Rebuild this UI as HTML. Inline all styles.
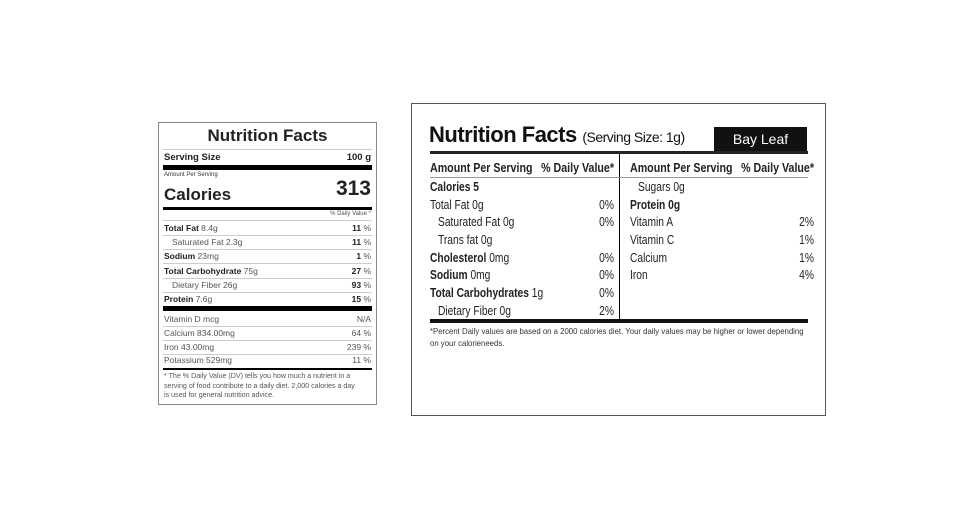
<!DOCTYPE html>
<html><head><meta charset="utf-8"><style>
body{margin:0;width:975px;height:525px;background:#fff;position:relative;overflow:hidden;font-family:"Liberation Sans",sans-serif;color:#222}
.a{position:absolute;white-space:nowrap}
.L{font-size:8.5px;color:#555}
.L b{color:#222}
.r{text-align:right}
.ln{position:absolute;background:#ccc;height:1px}
.bk{position:absolute;background:#000}
.N{font-size:12.5px;color:#222;transform:scaleX(0.82);transform-origin:left top}
.N.r{transform-origin:right top}
</style></head><body>
<!-- left label -->
<div class="a" style="left:158px;top:122px;width:217px;height:281px;border:1px solid #888"></div>
<div class="a" style="left:158px;top:126px;width:219px;text-align:center;font-size:17px;font-weight:bold;color:#222">Nutrition Facts</div>
<div class="ln" style="left:163px;top:149px;width:209px"></div>
<div class="a L" style="left:164px;top:152px;font-size:9.5px"><b>Serving Size</b></div>
<div class="a L r" style="left:300px;top:152px;width:71px;font-size:9.5px"><b>100 g</b></div>
<div class="bk" style="left:163px;top:165px;width:209px;height:5px"></div>
<div class="a L" style="left:164px;top:172px;font-size:6px;color:#333">Amount Per Serving</div>
<div class="a" style="left:164px;top:185px;font-size:17px;font-weight:bold;color:#222">Calories</div>
<div class="a r" style="left:300px;top:177px;width:71px;font-size:21px;font-weight:bold;color:#222">313</div>
<div class="bk" style="left:163px;top:207px;width:209px;height:3px"></div>
<div class="a L r" style="left:250px;top:211px;width:121px;font-size:6px">% Daily Value *</div>
<div class="ln" style="left:163px;top:220px;width:209px"></div>
<div class="a L" style="left:164px;top:223px"><b>Total Fat</b> 8.4g</div><div class="a L r" style="left:300px;top:223px;width:71px"><b>11</b> %</div>
<div class="ln" style="left:163px;top:235px;width:209px"></div>
<div class="a L" style="left:172px;top:237px">Saturated Fat 2.3g</div><div class="a L r" style="left:300px;top:237px;width:71px"><b>11</b> %</div>
<div class="ln" style="left:163px;top:249px;width:209px"></div>
<div class="a L" style="left:164px;top:251px"><b>Sodium</b> 23mg</div><div class="a L r" style="left:300px;top:251px;width:71px"><b>1</b> %</div>
<div class="ln" style="left:163px;top:263px;width:209px"></div>
<div class="a L" style="left:164px;top:266px"><b>Total Carbohydrate</b> 75g</div><div class="a L r" style="left:300px;top:266px;width:71px"><b>27</b> %</div>
<div class="ln" style="left:163px;top:278px;width:209px"></div>
<div class="a L" style="left:172px;top:280px">Dietary Fiber 26g</div><div class="a L r" style="left:300px;top:280px;width:71px"><b>93</b> %</div>
<div class="ln" style="left:163px;top:292px;width:209px"></div>
<div class="a L" style="left:164px;top:294px"><b>Protein</b> 7.6g</div><div class="a L r" style="left:300px;top:294px;width:71px"><b>15</b> %</div>
<div class="bk" style="left:163px;top:306px;width:209px;height:5px"></div>
<div class="a L" style="left:164px;top:314px">Vitamin D mcg</div><div class="a L r" style="left:300px;top:314px;width:71px">N/A</div>
<div class="ln" style="left:163px;top:326px;width:209px"></div>
<div class="a L" style="left:164px;top:328px">Calcium 834.00mg</div><div class="a L r" style="left:300px;top:328px;width:71px">64 %</div>
<div class="ln" style="left:163px;top:340px;width:209px"></div>
<div class="a L" style="left:164px;top:342px">Iron 43.00mg</div><div class="a L r" style="left:300px;top:342px;width:71px">239 %</div>
<div class="ln" style="left:163px;top:354px;width:209px"></div>
<div class="a L" style="left:164px;top:355px">Potassium 529mg</div><div class="a L r" style="left:300px;top:355px;width:71px">11 %</div>
<div class="bk" style="left:163px;top:368px;width:209px;height:2px"></div>
<div class="a" style="left:164px;top:372px;font-size:7.1px;line-height:9.7px;color:#555">* The % Daily Value (DV) tells you how much a nutrient in a<br>serving of food contribute to a daily diet. 2,000 calories a day<br>is used for general nutrition advice.</div>

<!-- right label -->
<div class="a" style="left:411px;top:103px;width:413px;height:311px;border:1px solid #555"></div>
<div class="a" style="left:429px;top:122px;font-size:22px;font-weight:bold;color:#111;letter-spacing:-0.5px">Nutrition Facts <span style="font-size:14px;font-weight:normal">(Serving Size: 1g)</span></div>
<div class="bk" style="left:714px;top:127px;width:93px;height:26px;background:#111"></div>
<div class="a" style="left:714px;top:131px;width:93px;text-align:center;color:#fff;font-size:14px">Bay Leaf</div>
<div class="bk" style="left:430px;top:151px;width:378px;height:3px;background:#222"></div>
<div class="bk" style="left:619px;top:154px;width:1px;height:165px"></div>
<div class="a N" style="left:430px;top:160px;font-weight:bold;font-size:13px">Amount Per Serving</div>
<div class="a N r" style="left:514px;top:160px;width:100px;font-weight:bold;font-size:13px">% Daily Value*</div>
<div class="a N" style="left:630px;top:160px;font-weight:bold;font-size:13px">Amount Per Serving</div>
<div class="a N r" style="left:714px;top:160px;width:100px;font-weight:bold;font-size:13px">% Daily Value*</div>
<div class="ln" style="left:430px;top:177px;width:378px;background:#999"></div>
<div class="a N" style="left:430px;top:180px"><b>Calories 5</b></div>
<div class="a N" style="left:430px;top:198px">Total Fat 0g</div><div class="a N r" style="left:570px;top:198px;width:44px">0%</div>
<div class="a N" style="left:438px;top:215px">Saturated Fat 0g</div><div class="a N r" style="left:570px;top:215px;width:44px">0%</div>
<div class="a N" style="left:438px;top:233px">Trans fat 0g</div>
<div class="a N" style="left:430px;top:251px"><b>Cholesterol</b> 0mg</div><div class="a N r" style="left:570px;top:251px;width:44px">0%</div>
<div class="a N" style="left:430px;top:268px"><b>Sodium</b> 0mg</div><div class="a N r" style="left:570px;top:268px;width:44px">0%</div>
<div class="a N" style="left:430px;top:286px"><b>Total Carbohydrates</b> 1g</div><div class="a N r" style="left:570px;top:286px;width:44px">0%</div>
<div class="a N" style="left:438px;top:304px">Dietary Fiber 0g</div><div class="a N r" style="left:570px;top:304px;width:44px">2%</div>
<div class="a N" style="left:638px;top:180px">Sugars 0g</div>
<div class="a N" style="left:630px;top:198px"><b>Protein 0g</b></div>
<div class="a N" style="left:630px;top:215px">Vitamin A</div><div class="a N r" style="left:770px;top:215px;width:44px">2%</div>
<div class="a N" style="left:630px;top:233px">Vitamin C</div><div class="a N r" style="left:770px;top:233px;width:44px">1%</div>
<div class="a N" style="left:630px;top:251px">Calcium</div><div class="a N r" style="left:770px;top:251px;width:44px">1%</div>
<div class="a N" style="left:630px;top:268px">Iron</div><div class="a N r" style="left:770px;top:268px;width:44px">4%</div>
<div class="bk" style="left:430px;top:319px;width:378px;height:4px;background:#111"></div>
<div class="a" style="left:430px;top:325px;font-size:8.6px;line-height:12px;color:#333;transform:scaleX(0.905);transform-origin:left top">*Percent Daily values are based on a 2000 calories diet. Your daily values may be higher or lower depending<br>on your calorieneeds.</div>
</body></html>
